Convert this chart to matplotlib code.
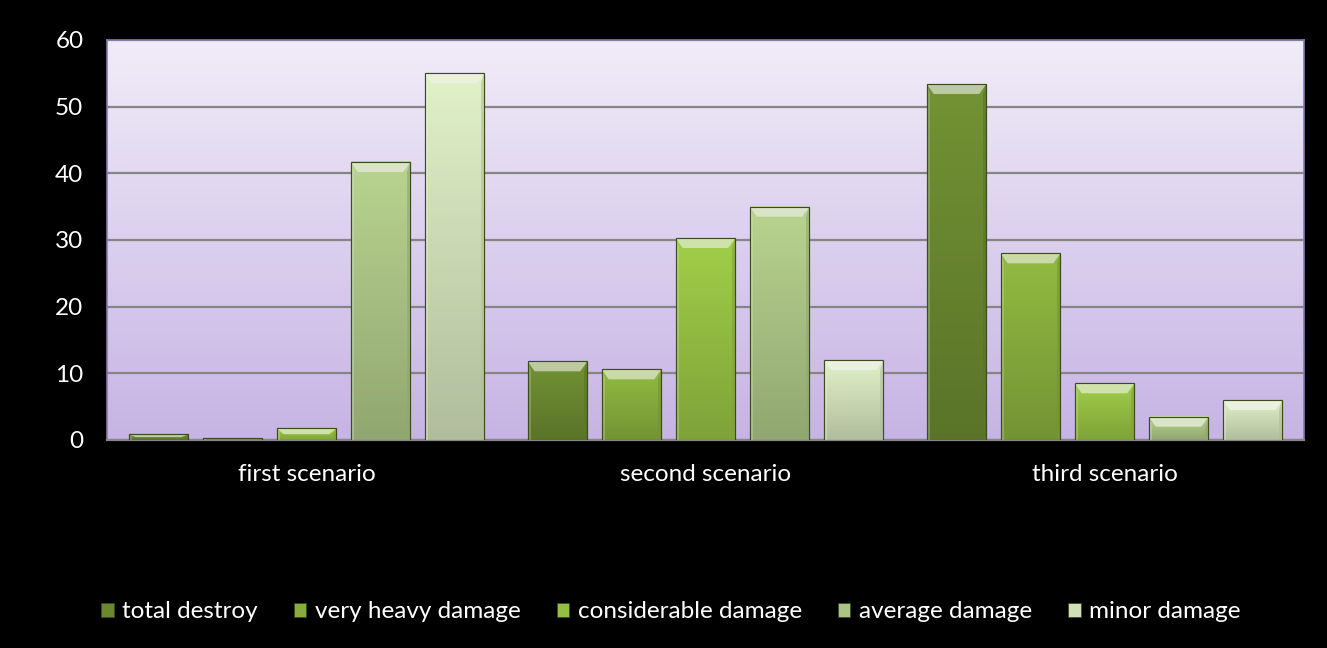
import numpy as np
import matplotlib
matplotlib.use('Agg')
import matplotlib.pyplot as plt
from matplotlib.patches import Polygon, Patch
from matplotlib.colors import to_rgb

# data
scenarios = ['first scenario', 'second scenario', 'third scenario']
damage_levels = ['total destroy', 'very heavy damage', 'considerable damage',
                 'average damage', 'minor damage']
total_destroy = [0.85, 11.8, 53.4]
very_heavy = [0.3, 10.6, 28.0]
considerable = [1.75, 30.3, 8.5]
average = [41.7, 35.0, 3.5]
minor = [55.0, 12.0, 6.0]
yticks = [0, 10, 20, 30, 40, 50, 60]

series = [total_destroy, very_heavy, considerable, average, minor]
colors = ['#6a8830', '#88ad3d', '#95bf43', '#abc485', '#d0dfb9']

plt.rcParams['font.family'] = ['Lato', 'DejaVu Sans']

fig = plt.figure(figsize=(13.27, 6.48), dpi=100, facecolor='black')
ax = fig.add_axes([107 / 1327, 1 - 440 / 648, 1197 / 1327, 400 / 648])
ax.set_facecolor('#ddd2ee')

# lavender gradient for plot area
grad = np.linspace(0, 1, 256).reshape(-1, 1)
top_c = np.array(to_rgb('#f1ecf8'))
bot_c = np.array(to_rgb('#c6b4e4'))
img = top_c * (1 - grad[..., None]) + bot_c * grad[..., None]
ax.imshow(img, extent=[0, 1, 0, 1], transform=ax.transAxes, aspect='auto', zorder=0)

x = np.arange(len(scenarios))
pitch = 0.1855
width = 0.150
offsets = (np.arange(len(series)) - 2) * pitch

ax.set_xlim(-0.5, 2.5)
ax.set_ylim(0, 60)
ax.set_yticks(yticks)
ax.yaxis.grid(True, color='#858585', linewidth=1.6, zorder=1)
ax.set_axisbelow(True)

px_per_unit = 400 / 60.0
for vals, off, col in zip(series, offsets, colors):
    base = np.array(to_rgb(col))
    bars = ax.bar(x + off, vals, width, color=col, edgecolor='#3c4a1c',
                  linewidth=0.8, zorder=3)
    for b in bars:
        bx, bw, bh = b.get_x(), b.get_width(), b.get_height()
        if bh <= 0:
            continue
        # vertical shading inside bar
        shade = np.linspace(1.08, 0.85, 64).reshape(-1, 1)
        bimg = np.clip(base * shade[..., None], 0, 1)
        ax.imshow(bimg, extent=[bx, bx + bw, 0, bh], aspect='auto', zorder=3.5,
                  clip_path=b, clip_on=True)
        # bevel top highlight
        bev = min(10 / px_per_unit, bh / 2)
        inset = bw * 0.12
        light = np.clip(base + (1 - base) * 0.55, 0, 1)
        ax.add_patch(Polygon([[bx, bh], [bx + bw, bh], [bx + bw - inset, bh - bev],
                              [bx + inset, bh - bev]], closed=True,
                             facecolor=light, edgecolor='none', zorder=4))
        dark = base * 0.85
        ax.add_patch(Polygon([[bx + bw, bh], [bx + bw, 0], [bx + bw - inset * 0.5, 0],
                              [bx + bw - inset * 0.5, bh - bev]], closed=True,
                             facecolor=dark, edgecolor='none', zorder=4, alpha=0.6))
        ax.add_patch(Polygon([[bx, bh], [bx, 0], [bx + inset * 0.5, 0],
                              [bx + inset * 0.5, bh - bev]], closed=True,
                             facecolor=light, edgecolor='none', zorder=4, alpha=0.35))
        ax.bar(bx + bw / 2, bh, bw, fill=False, edgecolor='#3c4a1c', linewidth=0.8, zorder=5)

ax.set_xticks(x)
ax.set_xticklabels(scenarios)
ax.tick_params(axis='both', length=0, colors='white', labelsize=17.5)
ax.tick_params(axis='y', pad=17)
ax.tick_params(axis='x', pad=17)

for side in ['top', 'right', 'left']:
    ax.spines[side].set_color('#8a78ad')
    ax.spines[side].set_linewidth(1.2)
ax.spines['bottom'].set_color('#868686')
ax.spines['bottom'].set_linewidth(1.6)

handles = [Patch(facecolor=c, edgecolor='#3c4a1c', linewidth=0.6) for c in colors]
fig.legend(handles, damage_levels, loc='center', bbox_to_anchor=(671 / 1327, 1 - 612 / 648),
           ncol=5, frameon=False, fontsize=17.5, labelcolor='white',
           handlelength=0.5, handleheight=0.5, handletextpad=0.35, columnspacing=1.5)

fig.savefig('out.png', dpi=100, facecolor='black')
